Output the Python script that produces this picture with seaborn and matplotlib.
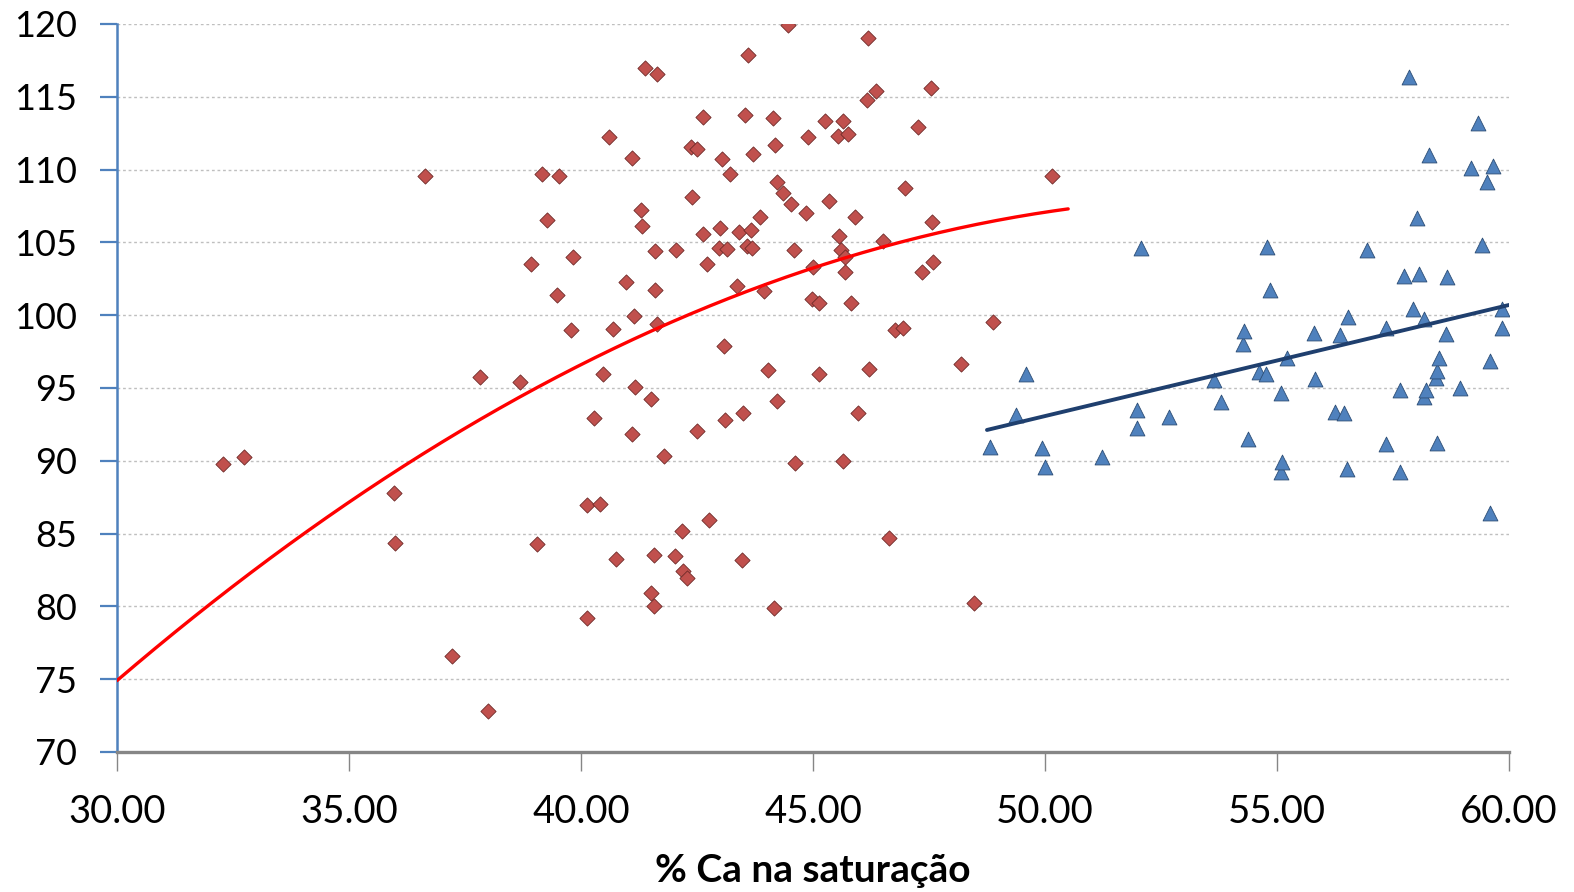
import numpy as np
import pandas as pd
import matplotlib
matplotlib.use("Agg")
import matplotlib.pyplot as plt
from matplotlib.ticker import FormatStrFormatter
import seaborn as sns

# ---------------- data ----------------
red_x = [32.29, 32.73, 35.96, 36.00, 36.63, 37.23, 37.82, 38.00, 38.68, 38.92,
         39.06, 39.17, 39.27, 39.48, 39.52, 39.78, 39.82, 40.12, 40.13, 40.29,
         40.40, 40.47, 40.60, 40.68, 40.76, 40.96, 41.09, 41.10, 41.14, 41.17,
         41.29, 41.31, 41.37, 41.50, 41.50, 41.57, 41.58, 41.59, 41.60, 41.63,
         41.64, 41.79, 42.03, 42.04, 42.17, 42.20, 42.29, 42.37, 42.40, 42.49,
         42.51, 42.63, 42.63, 42.71, 42.75, 42.98, 42.99, 43.05, 43.08, 43.10,
         43.15, 43.22, 43.36, 43.40, 43.48, 43.50, 43.53, 43.58, 43.61, 43.67,
         43.68, 43.71, 43.86, 43.95, 44.03, 44.14, 44.15, 44.19, 44.22, 44.23,
         44.35, 44.47, 44.52, 44.60, 44.62, 44.85, 44.89, 44.97, 45.01, 45.12,
         45.13, 45.26, 45.35, 45.53, 45.57, 45.61, 45.64, 45.65, 45.68, 45.69,
         45.75, 45.83, 45.91, 45.96, 46.17, 46.19, 46.21, 46.36, 46.51, 46.64,
         46.76, 46.94, 46.99, 47.27, 47.35, 47.55, 47.57, 47.59, 48.20, 48.46,
         48.88, 50.16]
red_y = [89.78, 90.24, 87.77, 84.35, 109.58, 76.57, 95.74, 72.79, 95.39, 103.50,
         84.29, 109.68, 106.52, 101.41, 109.54, 99.00, 104.02, 86.96, 79.18, 92.92,
         87.03, 95.94, 112.22, 99.08, 83.22, 102.30, 91.84, 110.78, 99.95, 95.05,
         107.25, 106.10, 117.00, 94.24, 80.92, 83.55, 80.03, 104.39, 101.75, 116.54,
         99.37, 90.33, 83.44, 104.48, 85.16, 82.43, 81.97, 111.55, 108.12, 111.39,
         92.07, 113.63, 105.55, 103.50, 85.96, 104.64, 105.99, 110.73, 97.86, 92.80,
         104.55, 109.72, 102.01, 105.69, 83.21, 93.26, 113.77, 104.78, 117.87, 105.87,
         104.62, 111.05, 106.77, 101.68, 96.24, 113.54, 79.91, 111.69, 94.09, 109.13,
         108.39, 119.95, 107.62, 104.51, 89.87, 107.04, 112.26, 101.09, 103.31, 100.84,
         95.96, 113.34, 107.82, 112.29, 105.42, 104.48, 89.97, 113.36, 103.98, 102.95,
         112.44, 100.86, 106.72, 93.31, 114.78, 119.04, 96.30, 115.38, 105.12, 84.67,
         98.98, 99.14, 108.76, 112.90, 102.99, 115.63, 106.42, 103.67, 96.67, 80.23,
         99.53, 109.58]

blue_x = [48.81, 49.38, 49.60, 49.93, 50.00, 51.22, 51.98, 51.98, 52.08, 52.68,
          53.64, 53.79, 54.26, 54.29, 54.37, 54.62, 54.77, 54.79, 54.84, 55.08,
          55.09, 55.11, 55.22, 55.80, 55.83, 56.26, 56.36, 56.45, 56.51, 56.52,
          56.94, 57.34, 57.34, 57.66, 57.66, 57.74, 57.85, 57.93, 58.02, 58.05,
          58.17, 58.17, 58.21, 58.27, 58.43, 58.45, 58.45, 58.49, 58.64, 58.67,
          58.95, 59.18, 59.34, 59.42, 59.52, 59.60, 59.60, 59.65, 59.86, 59.86]
blue_y = [90.93, 93.17, 95.94, 90.90, 89.55, 90.24, 93.49, 92.27, 104.59, 93.03,
          95.55, 94.06, 98.00, 98.91, 91.48, 96.08, 95.94, 104.66, 101.75, 94.68,
          89.25, 89.89, 97.08, 98.76, 95.62, 93.33, 98.62, 93.28, 89.44, 99.90,
          104.46, 99.10, 91.16, 94.86, 89.21, 102.69, 116.34, 100.45, 106.70, 102.85,
          99.74, 94.40, 94.86, 111.03, 95.69, 96.15, 91.25, 97.08, 98.69, 102.60,
          95.02, 110.09, 113.22, 104.80, 109.17, 96.83, 86.41, 110.25, 100.43, 99.14]

# trend lines as shown in the reference (Excel trendline equations)
red_trend_coef = [-0.05614, 6.0998, -57.568]   # polynomial order 2
red_trend_range = [30.0, 50.5]
blue_trend_coef = [0.763, 54.92]               # linear
blue_trend_range = [48.75, 60.0]

x_ticks = [30, 35, 40, 45, 50, 55, 60]
y_ticks = [70, 75, 80, 85, 90, 95, 100, 105, 110, 115, 120]
x_label = "% Ca na saturação"

# ---------------- style ----------------
sns.set_theme(style="white")
plt.rcParams['font.family'] = ['Lato', 'DejaVu Sans']

fig = plt.figure(figsize=(15.74, 8.92), dpi=100)
ax = fig.add_axes([0.0743, 0.157, 0.9587 - 0.0743, 0.9731 - 0.157])

df_red = pd.DataFrame({"x": red_x, "y": red_y})
df_blue = pd.DataFrame({"x": blue_x, "y": blue_y})

xr = np.linspace(red_trend_range[0], red_trend_range[1], 200)
xb = np.linspace(blue_trend_range[0], blue_trend_range[1], 50)

sns.scatterplot(data=df_red, x="x", y="y", marker="D", s=60, color="#C0504D",
                edgecolor="#6E2A28", linewidth=0.6, ax=ax, zorder=3)
sns.scatterplot(data=df_blue, x="x", y="y", marker="^", s=115, color="#4F81BD",
                edgecolor="#2C4D75", linewidth=0.6, ax=ax, zorder=3)
sns.lineplot(x=xr, y=np.polyval(red_trend_coef, xr), color="#FF0000",
             linewidth=2.4, ax=ax, zorder=4)
sns.lineplot(x=xb, y=np.polyval(blue_trend_coef, xb), color="#1F3F6E",
             linewidth=2.8, ax=ax, zorder=4)

ax.set_xlim(30, 60)
ax.set_ylim(70, 120)
ax.set_xticks(x_ticks)
ax.set_yticks(y_ticks)
ax.xaxis.set_major_formatter(FormatStrFormatter('%.2f'))

ax.yaxis.grid(True, linestyle=(0, (2, 2)), color="#BFBFBF", linewidth=1.0)
ax.xaxis.grid(False)
ax.set_axisbelow(True)

for s in ["top", "right"]:
    ax.spines[s].set_visible(False)
ax.spines["left"].set_color("#4F81BD")
ax.spines["left"].set_linewidth(1.8)
ax.spines["bottom"].set_color("#868686")
ax.spines["bottom"].set_linewidth(2.4)
ax.spines["bottom"].set_zorder(5)

ax.tick_params(axis="y", direction="out", length=12, width=1.6, color="#4F81BD",
               labelsize=26, pad=17, left=True)
ax.tick_params(axis="x", direction="out", length=14, width=1.0, color="#868686",
               labelsize=27.5, pad=16, bottom=True)
for lab in ax.get_xticklabels() + ax.get_yticklabels():
    lab.set_color("black")

ax.set_xlabel(x_label, fontsize=28, fontweight="bold", labelpad=17, color="black")
ax.set_ylabel("")

fig.savefig("out.png", dpi=100)
